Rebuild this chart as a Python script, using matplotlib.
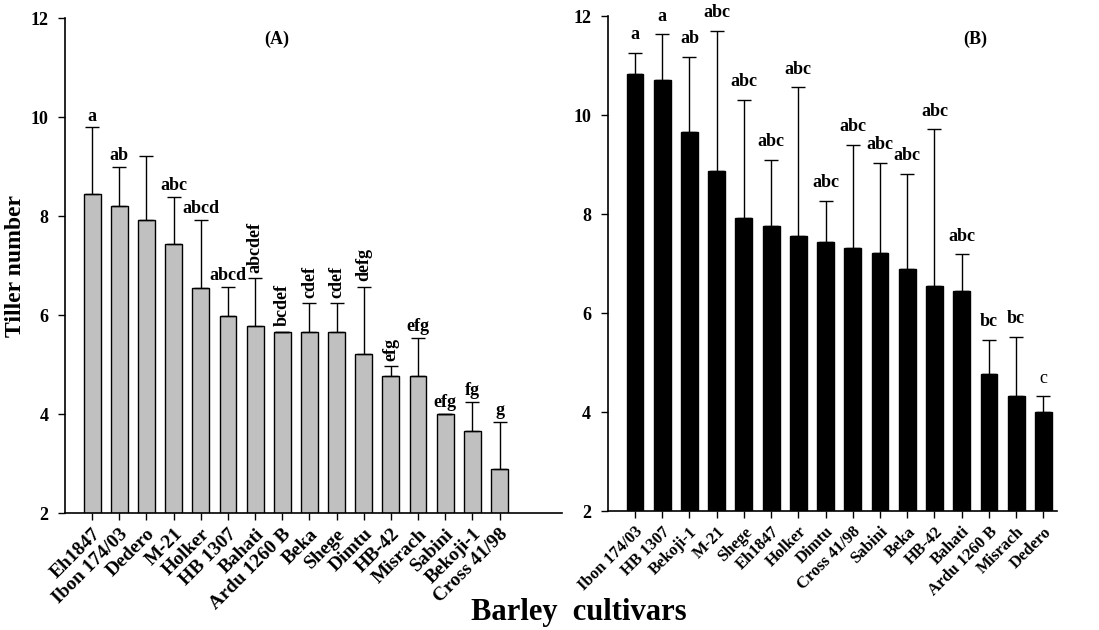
import matplotlib
matplotlib.use("Agg")
import matplotlib.pyplot as plt

plt.rcParams["font.family"] = ["Liberation Serif", "DejaVu Serif"]
plt.rcParams["font.weight"] = "bold"

# panel A
cult_a = ["Eh1847", "Ibon 174/03", "Dedero", "M-21", "Holker", "HB 1307", "Bahati",
          "Ardu 1260 B", "Beka", "Shege", "Dimtu", "HB-42", "Misrach", "Sabini",
          "Bekoji-1", "Cross 41/98"]
tiller_a = [8.44, 8.21, 7.91, 7.43, 6.55, 5.99, 5.77, 5.66, 5.66, 5.66, 5.21, 4.77,
            4.77, 4.00, 3.66, 2.88]
err_a = [1.35, 0.79, 1.31, 0.96, 1.37, 0.58, 0.97, 0.0, 0.58, 0.58, 1.36, 0.19,
         0.76, 0.0, 0.58, 0.96]
sig_a = ["a", "ab", "", "abc", "abcd", "abcd", "abcdef", "bcdef", "cdef", "cdef",
         "defg", "efg", "efg", "efg", "fg", "g"]
rot_a = [0, 0, 0, 0, 0, 0, 90, 90, 90, 90, 90, 90, 0, 0, 0, 0]

# panel B
cult_b = ["Ibon 174/03", "HB 1307", "Bekoji-1", "M-21", "Shege", "Eh1847", "Holker",
          "Dimtu", "Cross 41/98", "Sabini", "Beka", "HB-42", "Bahati", "Ardu 1260 B",
          "Misrach", "Dedero"]
tiller_b = [10.82, 10.70, 9.65, 8.88, 7.93, 7.77, 7.55, 7.44, 7.32, 7.21, 6.89, 6.55,
            6.44, 4.78, 4.33, 4.00]
err_b = [0.43, 0.93, 1.52, 2.82, 2.38, 1.33, 3.01, 0.83, 2.08, 1.83, 1.92, 3.16,
         0.75, 0.68, 1.19, 0.32]
sig_b = ["a", "a", "ab", "abc", "abc", "abc", "abc", "abc", "abc", "abc", "abc", "abc",
         "abc", "bc", "bc", "c"]

fig = plt.figure(figsize=(10.99, 6.30), dpi=100)
ax1 = fig.add_axes([0.0591, 0.1857, 0.4523, 0.7857])
ax2 = fig.add_axes([0.553, 0.1884, 0.4088, 0.7862])


def panel(ax, names, vals, errs, sigs, color, xmax, tick_fs, gap, rots=None):
    x = list(range(len(names)))
    ax.bar(x, vals, width=0.62, color=color, edgecolor="black", linewidth=1.0, zorder=2)
    ax.errorbar(x, vals, yerr=[[0] * len(errs), errs], fmt="none", ecolor="black",
                elinewidth=1.0, capsize=5, capthick=1.0, zorder=3)
    for i, s in enumerate(sigs):
        if not s:
            continue
        rot = rots[i] if rots else 0
        top = vals[i] + errs[i]
        wt = "normal" if s == "c" else "bold"
        ax.annotate(s, (i, top), xytext=(0, gap if rot == 0 else 4),
                    textcoords="offset points", ha="center", va="bottom",
                    rotation=rot, fontsize=13, fontweight=wt)
    ax.set_xlim(-1, xmax)
    ax.set_ylim(2, 12)
    ax.set_yticks([2, 4, 6, 8, 10, 12])
    ax.set_xticks(x)
    ax.set_xticklabels(names, rotation=45, ha="right", rotation_mode="anchor",
                       fontsize=tick_fs, fontweight="bold")
    for lab in ax.get_yticklabels():
        lab.set_fontsize(13)
        lab.set_fontweight("bold")
    ax.tick_params(axis="y", direction="out", length=5, width=1, pad=7)
    ax.tick_params(axis="x", direction="out", length=5, width=1, pad=4)
    for side in ["top", "right"]:
        ax.spines[side].set_visible(False)
    for side in ["left", "bottom"]:
        ax.spines[side].set_linewidth(1.2)


panel(ax1, cult_a, tiller_a, err_a, sig_a, "#c0c0c0", 17.3, 14, 2, rot_a)
panel(ax2, cult_b, tiller_b, err_b, sig_b, "black", 15.5, 12, 7)

ax1.text(0.426, 0.957, "(A)", transform=ax1.transAxes, ha="center", va="center",
         fontsize=13, fontweight="bold")
ax2.text(0.817, 0.952, "(B)", transform=ax2.transAxes, ha="center", va="center",
         fontsize=13, fontweight="bold")

ax1.set_ylabel("Tiller number", fontsize=17, fontweight="bold")
ax1.yaxis.set_label_coords(-0.078, 0.5)
fig.text(0.527, 0.016, "Barley  cultivars", ha="center", va="baseline",
         fontsize=22, fontweight="bold")

fig.savefig("out.png", dpi=100)
